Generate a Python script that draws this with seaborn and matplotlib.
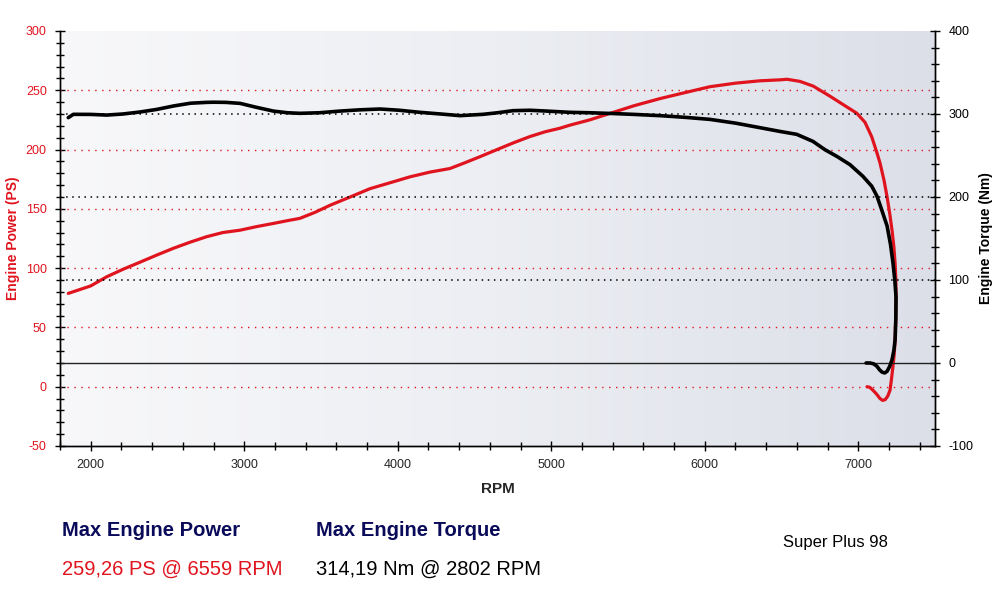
import numpy as np
import pandas as pd
import matplotlib
matplotlib.use("Agg")
import matplotlib.pyplot as plt
import seaborn as sns
from matplotlib.ticker import MultipleLocator
from matplotlib.colors import LinearSegmentedColormap

# ---- data ----
power_rpm = [1854, 2000, 2104, 2210, 2321, 2430, 2538, 2650, 2755, 2860, 2973, 3080, 3190,
             3280, 3363, 3460, 3559, 3690, 3819, 3950, 4080, 4210, 4340, 4440, 4536, 4666,
             4760, 4862, 4960, 5057, 5122, 5250, 5383, 5540, 5709, 5870, 6034, 6200, 6360,
             6490, 6536, 6620, 6707, 6816, 6925, 6990, 7044, 7088, 7120, 7142, 7168, 7188,
             7205, 7220, 7232, 7240, 7245, 7246, 7244, 7240, 7234, 7226, 7217, 7207, 7192,
             7175, 7158, 7142, 7118, 7096, 7075, 7057]
power_ps = [78.7, 85, 92.7, 99, 105, 111, 116.7, 122, 126.5, 130, 132, 135, 137.7,
            140, 142, 147, 153, 160, 167, 172, 177, 181, 184, 189, 194, 201,
            206, 211, 215, 218, 220.6, 225, 230.5, 237, 243, 248, 253, 256, 258,
            258.8, 259.3, 257.5, 253.5, 245, 236, 230.7, 223, 210.7, 198, 188.6, 174, 160,
            146, 132, 118, 104, 90, 75.6, 57, 39, 27, 17, 7, -3, -8,
            -11, -11.5, -10, -6, -3, -0.5, 0]

torque_rpm = [1854, 1887, 2000, 2104, 2210, 2321, 2430, 2538, 2650, 2755, 2802, 2880, 2973,
              3080, 3190, 3280, 3363, 3490, 3624, 3750, 3885, 4010, 4145, 4280, 4406, 4556,
              4650, 4751, 4860, 4972, 5122, 5250, 5383, 5540, 5709, 5870, 6034, 6200, 6360,
              6490, 6599, 6705, 6783, 6860, 6946, 7030, 7088, 7122, 7152, 7188, 7210, 7226,
              7238, 7246, 7245, 7240, 7232, 7220, 7205, 7188, 7172, 7155, 7138, 7122, 7100,
              7077, 7051]
torque_nm = [295.6, 299.6, 299.5, 298.7, 300, 302.4, 305.5, 309.6, 313, 314.0, 314.19, 314, 312.8,
             308, 303.5, 301.5, 300.8, 301.5, 303.5, 305, 306, 304.5, 302, 300, 298, 299.6,
             301.5, 304, 304.5, 303.5, 302, 301.5, 300.7, 299.5, 298, 296, 293.5, 289, 283.5,
             279, 275.5, 267, 257, 249, 239, 225, 213, 201, 185, 165, 143, 121,
             100, 80, 54, 28, 15, 4, -4, -10, -12, -11, -8, -4, -1,
             0, 0]

power_ticks = [-50, 0, 50, 100, 150, 200, 250, 300]
torque_ticks = [-100, 0, 100, 200, 300, 400]
rpm_ticks = [2000, 3000, 4000, 5000, 6000, 7000]

sns.set_style("white")
plt.rcParams['font.family'] = ['Liberation Sans', 'DejaVu Sans']
plt.rcParams['axes.unicode_minus'] = False

fig = plt.figure(figsize=(10, 5.96), dpi=100)
ax = fig.add_axes([0.06, 0.2517, 0.875, 0.6963])
ax2 = ax.twinx()

RED = '#e0141e'
NAVY = '#0a0a5a'

# background gradient
grad = np.linspace(0, 1, 256).reshape(1, -1)
cmap = LinearSegmentedColormap.from_list('bg', ['#f8f8fa', '#eceef3', '#dcdfe8'])
ax.imshow(grad, extent=[0, 1, 0, 1], transform=ax.transAxes, cmap=cmap,
          aspect='auto', zorder=0)

# grids
for v in [0, 50, 100, 150, 200, 250]:
    ax.axhline(v, color=RED, lw=1.0, ls=(0, (1, 4)), zorder=1)
for v in [100, 200, 300]:
    ax2.axhline(v, color='black', lw=1.1, ls=(0, (1, 3)), zorder=1)
ax2.axhline(0, color='#222222', lw=1.0, zorder=1)

dfp = pd.DataFrame({'rpm': power_rpm, 'ps': power_ps})
dft = pd.DataFrame({'rpm': torque_rpm, 'nm': torque_nm})
sns.lineplot(data=dfp, x='rpm', y='ps', sort=False, estimator=None, ax=ax,
             color=RED, lw=2.3, zorder=3, solid_joinstyle='round', solid_capstyle='round')
sns.lineplot(data=dft, x='rpm', y='nm', sort=False, estimator=None, ax=ax2,
             color='black', lw=2.6, zorder=3, solid_joinstyle='round', solid_capstyle='round')

ax.set_xlim(1800, 7500)
ax.set_ylim(-50, 300)
ax2.set_ylim(-100, 400)

ax.set_xticks(rpm_ticks)
ax.xaxis.set_minor_locator(MultipleLocator(200))
ax.set_yticks(power_ticks)
ax.yaxis.set_minor_locator(MultipleLocator(10))
ax2.set_yticks(torque_ticks)
ax2.yaxis.set_minor_locator(MultipleLocator(20))

ax.tick_params(axis='both', which='both', direction='inout', length=7, width=1, color='black')
ax.tick_params(axis='y', which='minor', length=6)
ax.tick_params(axis='x', which='minor', length=6)
ax.tick_params(axis='y', labelcolor=RED, labelsize=9, pad=6)
ax.tick_params(axis='x', labelsize=9, pad=6)
ax2.tick_params(axis='y', which='both', direction='inout', length=7, width=1, color='black',
                labelsize=9, labelcolor='black', pad=6)
ax2.tick_params(axis='y', which='minor', length=6)
ax.yaxis.set_ticks_position('left')
ax.xaxis.set_ticks_position('bottom')

for a in (ax, ax2):
    a.spines['top'].set_visible(False)
    for s in ['left', 'right', 'bottom']:
        a.spines[s].set_color('black')
        a.spines[s].set_linewidth(1.0)

ax.set_xlabel('RPM', fontsize=11, fontweight='bold', labelpad=8)
ax.set_ylabel('Engine Power (PS)', fontsize=10, fontweight='bold', color=RED, labelpad=4)
ax2.set_ylabel('Engine Torque (Nm)', fontsize=10, fontweight='bold', color='black', labelpad=4)

# summary text
fig.text(0.062, 1 - 530 / 596, 'Max Engine Power', fontsize=14.5, fontweight='bold',
         color=NAVY, va='center', ha='left')
fig.text(0.316, 1 - 530 / 596, 'Max Engine Torque', fontsize=14.5, fontweight='bold',
         color=NAVY, va='center', ha='left')
fig.text(0.062, 1 - 569 / 596, '259,26 PS @ 6559 RPM', fontsize=14.5, color=RED,
         va='center', ha='left')
fig.text(0.316, 1 - 569 / 596, '314,19 Nm @ 2802 RPM', fontsize=14.5, color='black',
         va='center', ha='left')
fig.text(0.783, 1 - 543 / 596, 'Super Plus 98', fontsize=12, color='black',
         va='center', ha='left')

fig.savefig('out.png', dpi=100, facecolor='white')
